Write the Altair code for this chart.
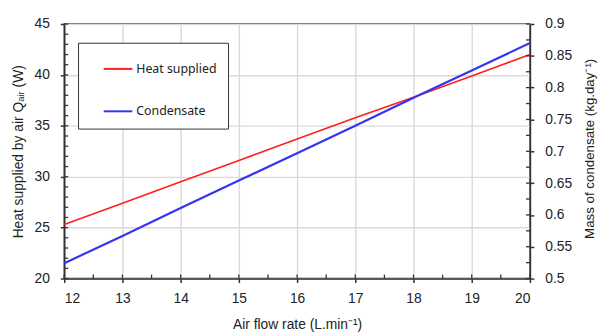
import altair as alt
import pandas as pd

# data
flow = [12, 13, 14, 15, 16, 17, 18, 19, 20]
heat = [25.3, 27.4, 29.5, 31.6, 33.7, 35.8, 37.8, 39.9, 42.0]
cond = [0.524, 0.567, 0.611, 0.654, 0.697, 0.740, 0.784, 0.827, 0.870]

x_ticks = [12, 13, 14, 15, 16, 17, 18, 19, 20]
x_minor = [12 + 0.5 * i for i in range(17)]
left_ticks = [20, 25, 30, 35, 40, 45]
left_minor = list(range(20, 46))
right_ticks = [0.5, 0.55, 0.6, 0.65, 0.7, 0.75, 0.8, 0.85, 0.9]
right_minor = [round(0.5 + 0.025 * i, 3) for i in range(17)]

series_names = ["Heat supplied", "Condensate"]
series_colors = ["#ff1f1f", "#3535ee"]

W, H = 472, 258
AX = "#333333"
TICKFONT = "Liberation Sans"
TITLEFONT = "Liberation Sans"

df_heat = pd.DataFrame({"flow": flow, "val": heat, "series": series_names[0]})
df_cond = pd.DataFrame({"flow": flow, "val": cond, "series": series_names[1]})

xscale = alt.Scale(domain=[12, 20], nice=False, zero=False)
lscale = alt.Scale(domain=[20, 45], nice=False, zero=False)
rscale = alt.Scale(domain=[0.5, 0.9], nice=False, zero=False)
cscale = alt.Scale(domain=series_names, range=series_colors)

xaxis = alt.Axis(values=x_ticks, grid=True, title="Air flow rate (L.min⁻¹)",
                 format="d", tickSize=4, labelPadding=9, titlePadding=13,
                 labelOverlap=False)
laxis = alt.Axis(values=left_ticks, grid=True, format="d", orient="left",
                 title="Heat supplied by air Qₐᵢᵣ (W)", tickSize=4,
                 labelPadding=11, titlePadding=9, labelOverlap=False)
raxis = alt.Axis(values=right_ticks, grid=False, orient="right",
                 labelExpr="format(datum.value, '~g')",
                 title="Mass of condensate (kg.day⁻¹)", tickSize=4,
                 labelPadding=11, titleAngle=270, titleX=64, titleY=126,
                 titleAlign="center", titleBaseline="alphabetic",
                 titleFontSize=13.5, labelOverlap=False)

legend = alt.Legend(orient="none", legendX=14, legendY=19, title=None,
                    strokeColor=AX, fillColor="white", padding=11,
                    symbolType="stroke", symbolSize=841, symbolStrokeWidth=2,
                    symbolOffset=14, labelOffset=3, rowPadding=21,
                    labelFont="Noto Sans", labelFontSize=12.5, labelColor="#222")

heat_line = alt.Chart(df_heat).mark_line(strokeWidth=1.6).encode(
    x=alt.X("flow:Q", scale=xscale, axis=xaxis),
    y=alt.Y("val:Q", scale=lscale, axis=laxis),
    color=alt.Color("series:N", scale=cscale, legend=legend),
)

left_minor_rules = alt.Chart(pd.DataFrame({"v": left_minor})).mark_rule(
    color=AX, strokeWidth=1.3).encode(
    y=alt.Y("v:Q", scale=lscale, axis=laxis), x=alt.value(0), x2=alt.value(4))

x_minor_rules = alt.Chart(pd.DataFrame({"v": x_minor})).mark_rule(
    color=AX, strokeWidth=1.3).encode(
    x=alt.X("v:Q", scale=xscale, axis=xaxis), y=alt.value(H - 4), y2=alt.value(H))

cond_line = alt.Chart(df_cond).mark_line(strokeWidth=2.2).encode(
    x=alt.X("flow:Q", scale=xscale, axis=xaxis),
    y=alt.Y("val:Q", scale=rscale, axis=raxis),
    color=alt.Color("series:N", scale=cscale, legend=legend),
)

right_minor_rules = alt.Chart(pd.DataFrame({"v": right_minor})).mark_rule(
    color=AX, strokeWidth=1.3).encode(
    y=alt.Y("v:Q", scale=rscale, axis=raxis), x=alt.value(W - 4), x2=alt.value(W))

left = alt.layer(heat_line, left_minor_rules, x_minor_rules)
right = alt.layer(cond_line, right_minor_rules)

chart = alt.layer(left, right).resolve_scale(y="independent").properties(
    width=W, height=H,
    autosize=alt.AutoSizeParams(type="none"),
    padding={"left": 57, "top": 14, "right": 70, "bottom": 56},
    background="white",
).configure_view(
    stroke=AX, strokeWidth=1.5
).configure_axis(
    domainColor=AX, domainWidth=1.5, tickColor=AX, tickWidth=1.5,
    gridColor="#dadada", gridWidth=1.4,
    labelFont=TICKFONT, labelFontSize=14, labelColor="#222",
    titleFont=TITLEFONT, titleFontSize=14, titleFontWeight="normal", titleColor="#222",
)

chart.save("out.html", embed_options={"renderer": "svg", "actions": False})
